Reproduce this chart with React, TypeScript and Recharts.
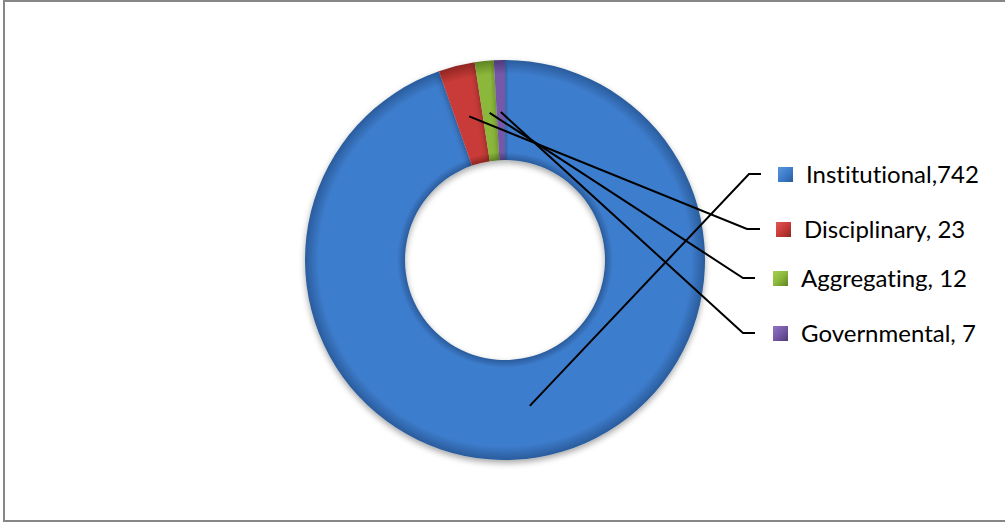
import React from "react";
import { PieChart, Pie, Cell } from "recharts";

// repository categories and their counts
const categories = ["Institutional", "Disciplinary", "Aggregating", "Governmental"];
const counts = [742, 23, 12, 7];
const separators = [",", ", ", ", ", ", "];

const colors = ["#3E7DCD", "#C83B37", "#8BB83B", "#7558A8"];
const darkColors = ["#2A5C9C", "#8E2623", "#5F8323", "#4E3977"];
const lightColors = ["#5B95DA", "#DE5A55", "#A6D055", "#9175C2"];

// label rows at the right: corner of leader line, end of its short tick, marker x, text x, row y
const labelRows = [
  { corner: 749, tick: 761, marker: 778, text: 806, y: 174 },
  { corner: 747, tick: 760, marker: 776, text: 804, y: 229 },
  { corner: 743, tick: 755, marker: 773, text: 801, y: 278 },
  { corner: 743, tick: 755, marker: 773, text: 801, y: 333 },
];

const data = categories.map((name, i) => ({ name, value: counts[i] }));

const RAD = Math.PI / 180;

function renderLabel(props: any) {
  const { cx, cy, midAngle, innerRadius, outerRadius, index } = props;
  const row = labelRows[index];
  const r = (innerRadius + outerRadius) / 2 - 2;
  const sx = cx + r * Math.cos(-midAngle * RAD);
  const sy = cy + r * Math.sin(-midAngle * RAD);
  return (
    <g key={`lbl-${index}`}>
      <polyline
        points={`${sx},${sy} ${row.corner},${row.y} ${row.tick},${row.y}`}
        fill="none"
        stroke="#000"
        strokeWidth={2}
      />
      <rect x={row.marker} y={row.y - 7} width={15} height={15} fill={`url(#mk-${index})`} />
      <text
        x={row.text}
        y={row.y}
        dy="0.36em"
        fill="#000"
        fontSize={24}
        fontFamily="Lato, 'Open Sans', sans-serif"
        style={{ fontVariantLigatures: "none" }}
      >
        {categories[index] + separators[index] + counts[index]}
      </text>
    </g>
  );
}

export default function App() {
  return (
    <div style={{ position: "fixed", left: 0, top: 0, width: 1005, height: 522, background: "#fff", overflow: "hidden" }}>
      <div
        style={{
          position: "absolute",
          left: 3,
          top: 0,
          width: 1010,
          height: 522,
          boxSizing: "border-box",
          borderLeft: "2px solid #868686",
          borderTop: "2px solid #868686",
          borderBottom: "2px solid #868686",
        }}
      />
      <div style={{ position: "absolute", left: 0, top: 0 }}>
        <PieChart width={1005} height={522} margin={{ top: 0, right: 0, bottom: 0, left: 0 }}>
          <defs>
            <filter id="shadow" x="-20%" y="-20%" width="140%" height="140%">
              <feDropShadow dx="0" dy="3" stdDeviation="3" floodColor="#000" floodOpacity="0.35" />
            </filter>
            {colors.map((c, i) => (
              <radialGradient key={`rg-${i}`} id={`rg-${i}`} gradientUnits="userSpaceOnUse" cx={505} cy={260} r={200}>
                <stop offset="0.5" stopColor={darkColors[i]} />
                <stop offset="0.54" stopColor={c} />
                <stop offset="0.93" stopColor={c} />
                <stop offset="1" stopColor={darkColors[i]} />
              </radialGradient>
            ))}
            {colors.map((c, i) => (
              <linearGradient key={`mk-${i}`} id={`mk-${i}`} x1="0" y1="0" x2="1" y2="1">
                <stop offset="0" stopColor={lightColors[i]} />
                <stop offset="0.5" stopColor={c} />
                <stop offset="1" stopColor={darkColors[i]} />
              </linearGradient>
            ))}
          </defs>
          <Pie
            data={data}
            dataKey="value"
            nameKey="name"
            cx={505}
            cy={260}
            innerRadius={100}
            outerRadius={200}
            startAngle={90}
            endAngle={-270}
            stroke="none"
            label={renderLabel}
            labelLine={false}
            isAnimationActive={false}
            style={{ filter: "url(#shadow)" }}
          >
            {data.map((d, i) => (
              <Cell key={d.name} fill={`url(#rg-${i})`} />
            ))}
          </Pie>
        </PieChart>
      </div>
    </div>
  );
}
